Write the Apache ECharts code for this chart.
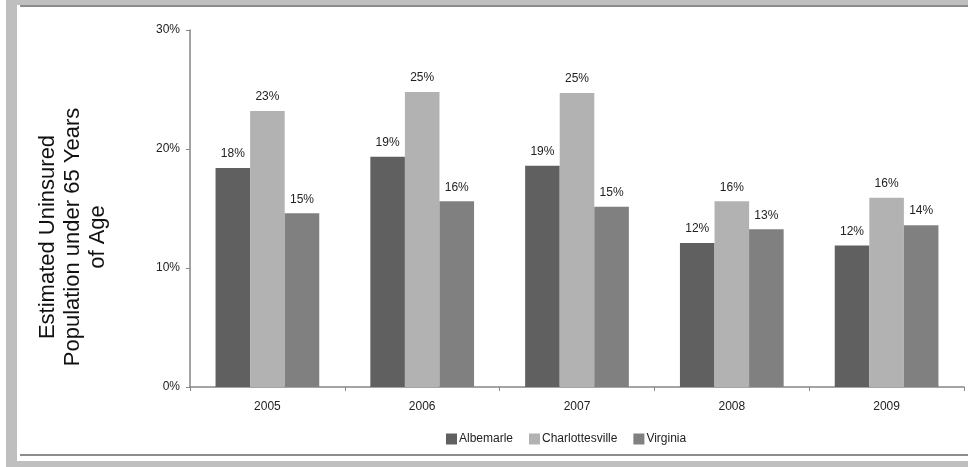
<!DOCTYPE html>
<html>
<head>
<meta charset="utf-8">
<script src="https://cdn.jsdelivr.net/npm/echarts@6/dist/echarts.min.js"></script>
<style>
  html, body { margin: 0; padding: 0; background: #fff; }
  #chart { width: 968px; height: 467px; }
</style>
</head>
<body>
<div id="chart"></div>
<script>
// 데이터 (percent)
const years = ['2005', '2006', '2007', '2008', '2009'];
const albemarle = [18.4, 19.35, 18.6, 12.1, 11.9];
const charlottesville = [23.2, 24.8, 24.7, 15.6, 15.9];
const virginia = [14.6, 15.6, 15.15, 13.25, 13.6];
const yTicks = [0, 10, 20, 30];

const chartDom = document.getElementById('chart');
let chart = echarts.init(chartDom);

const font = "'Liberation Sans', Arial, sans-serif";
const frame = '#bfbfbf';
const frameLine = '#8c8c8c';

function barSeries(name, data, color) {
    return {
        name: name,
        type: 'bar',
        data: data,
        barGap: '0%',
        barCategoryGap: '33%',
        itemStyle: { color: color },
        label: {
            show: true,
            position: 'top',
            distance: 8,
            color: '#222',
            fontFamily: font,
            fontSize: 12,
            formatter: p => Math.round(p.value) + '%'
        }
    };
}

let option = {
    animation: false,
    grid: { left: 190, right: 4, top: 30, bottom: 80 },
    legend: {
        data: ['Albemarle', 'Charlottesville', 'Virginia'],
        left: 441,
        top: 428,
        icon: 'rect',
        itemWidth: 11,
        itemHeight: 11,
        itemGap: 16,
        textStyle: { color: '#222', fontSize: 12, fontFamily: font, padding: [0, 0, 0, -3] }
    },
    xAxis: {
        type: 'category',
        data: years,
        axisLine: { lineStyle: { color: '#868686', width: 1.5 } },
        axisTick: { show: true, alignWithLabel: false, length: 4, lineStyle: { color: '#868686' } },
        axisLabel: { color: '#222', fontSize: 12, fontFamily: font, margin: 14 }
    },
    yAxis: {
        type: 'value',
        min: yTicks[0],
        max: yTicks[yTicks.length - 1],
        interval: 10,
        axisLine: { show: true, lineStyle: { color: '#868686', width: 1.5 } },
        axisTick: { show: true, length: 4, lineStyle: { color: '#868686' } },
        splitLine: { show: false },
        axisLabel: { color: '#222', fontSize: 12, fontFamily: font, margin: 10, formatter: '{value}%' }
    },
    graphic: [
        // 테두리
        { type: 'rect', shape: { x: 6, y: 0, width: 962, height: 5 }, style: { fill: frame }, silent: true },
        { type: 'rect', shape: { x: 20, y: 5, width: 948, height: 2 }, style: { fill: frameLine }, silent: true },
        { type: 'rect', shape: { x: 6, y: 0, width: 11, height: 467 }, style: { fill: frame }, silent: true },
        { type: 'rect', shape: { x: 20, y: 454, width: 948, height: 2 }, style: { fill: frameLine }, silent: true },
        { type: 'rect', shape: { x: 6, y: 461, width: 962, height: 6 }, style: { fill: frame }, silent: true },
        // y축 제목
        {
            type: 'text',
            x: 73,
            y: 237,
            rotation: Math.PI / 2,
            style: {
                text: 'Estimated Uninsured\nPopulation under 65 Years\nof Age',
                fill: '#111',
                font: '22px ' + font,
                align: 'center',
                verticalAlign: 'middle',
                lineHeight: 25
            }
        }
    ],
    series: [
        barSeries('Albemarle', albemarle, '#606060'),
        barSeries('Charlottesville', charlottesville, '#b2b2b2'),
        barSeries('Virginia', virginia, '#808080')
    ]
};

chart.setOption(option);
</script>
</body>
</html>
